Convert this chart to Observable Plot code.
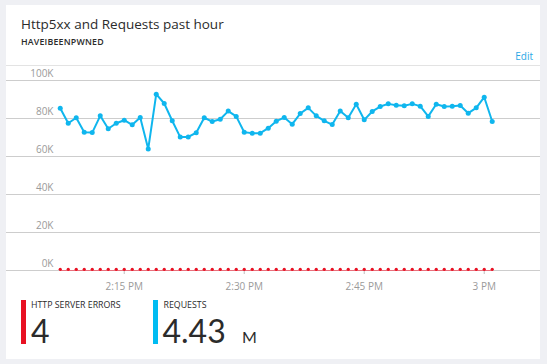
<!DOCTYPE html>
<html>
<head>
<meta charset="utf-8">
<script src="https://cdn.jsdelivr.net/npm/d3@7"></script>
<script src="https://cdn.jsdelivr.net/npm/@observablehq/plot@0.6"></script>
<style>
  html, body { margin: 0; padding: 0; }
  body { width: 547px; height: 364px; background: #eff0f4; position: relative; overflow: hidden; font-family: "Open Sans", "Noto Sans", sans-serif; }
  .card { position: absolute; left: 6px; top: 5px; width: 534px; height: 354px; background: #fff; }
  .abs { position: absolute; line-height: 1; white-space: nowrap; }
  #title { left: 21px; top: 17.6px; font-size: 13.5px; color: #2b2b2b; }
  #subtitle { left: 21px; top: 38.3px; font-size: 8.8px; font-weight: 600; color: #2b2b2b; letter-spacing: 0.2px; }
  #edit { right: 14px; top: 51px; font-size: 10px; color: #2aa8e6; }
  #divider { left: 6px; top: 65px; width: 534px; height: 1px; background: #e3e3e3; }
  #chart { position: absolute; left: 6px; top: 65px; }
  .bar { position: absolute; top: 300px; width: 5px; height: 44px; }
  .lab { font-size: 8.8px; color: #2b2b2b; top: 301px; }
  .big { font-family: Lato, "Open Sans", sans-serif; font-size: 32px; color: #2b2b2b; top: 314.9px; }
  .unit { font-family: Lato, "Open Sans", sans-serif; font-size: 16px; color: #2b2b2b; top: 329.1px; }
</style>
</head>
<body>
<div class="card"></div>
<div class="abs" id="title">Http5xx and Requests past hour</div>
<div class="abs" id="subtitle">HAVEIBEENPWNED</div>
<div class="abs" id="edit">Edit</div>
<div class="abs" id="divider"></div>
<div id="chart"></div>

<div class="bar" style="left:21px;background:#e81123"></div>
<div class="abs lab" style="left:31px">HTTP SERVER ERRORS</div>
<div class="abs big" style="left:31px">4</div>

<div class="bar" style="left:153px;background:#00bcf2"></div>
<div class="abs lab" style="left:163.5px">REQUESTS</div>
<div class="abs big" style="left:162.5px">4.43</div>
<div class="abs unit" style="left:242px">M</div>

<script>
// per-minute request counts, 2:07 PM .. 3:01 PM
const requests = [
  85400, 77500, 80400, 72800, 72600, 81400, 74600, 77500, 79100, 76700,
  80500, 64000, 92800, 87900, 78800, 70200, 70300, 72500, 80400, 78400,
  79600, 83900, 81100, 72800, 72300, 72300, 74900, 78600, 80500, 77000,
  82600, 85600, 81400, 78800, 76800, 83900, 80400, 87500, 79300, 83700,
  86300, 87700, 87000, 86700, 87700, 86500, 81100, 87500, 86300, 86500,
  86800, 82800, 85600, 91200, 78400
];
// HTTP 5xx errors per minute (total 4)
const errors = [
  0, 0, 0, 0, 0, 0, 0, 0, 0, 0,
  0, 0, 1, 0, 0, 0, 0, 0, 0, 0,
  0, 0, 0, 1, 0, 0, 0, 0, 0, 0,
  0, 0, 0, 0, 0, 0, 1, 0, 0, 0,
  0, 0, 0, 0, 0, 0, 0, 0, 1, 0,
  0, 0, 0, 0, 0
];
const times = d3.timeMinute.range(new Date(2017, 0, 1, 14, 7), new Date(2017, 0, 1, 15, 2));
const yTicks = [0, 20000, 40000, 60000, 80000, 100000];
const xTicks = [new Date(2017, 0, 1, 14, 15), new Date(2017, 0, 1, 14, 30), new Date(2017, 0, 1, 14, 45), new Date(2017, 0, 1, 15, 0)];

const data = times.map((t, i) => ({time: t, requests: requests[i], errors: errors[i]}));
const fmtMin = d3.timeFormat("%-I:%M %p");
const fmtHour = d3.timeFormat("%-I %p");

const chart = Plot.plot({
  width: 534,
  height: 235,
  marginTop: 15,
  marginBottom: 30,
  marginLeft: 0,
  marginRight: 0,
  style: {fontFamily: "'Open Sans', sans-serif", fontSize: "10px", color: "#9a9a9a", background: "transparent", overflow: "visible"},
  x: {type: "time", domain: [new Date(2017, 0, 1, 14, 0, 17), new Date(2017, 0, 1, 15, 7, 2)], label: null},
  y: {domain: [0, 100000], label: null},
  marks: [
    Plot.ruleY(yTicks, {stroke: "#cdcdcd", strokeWidth: 1}),
    Plot.axisY(yTicks, {tickSize: 0, tickPadding: 0, dx: 47, dy: -6.5, textAnchor: "end", tickFormat: d => d / 1000 + "K", fill: "#9a9a9a"}),
    Plot.axisX(xTicks, {tickSize: 4, tickPadding: 8, stroke: "#bdbdbd", fill: "#9a9a9a", tickFormat: d => d.getMinutes() ? fmtMin(d) : fmtHour(d)}),
    Plot.line(data, {x: "time", y: "errors", stroke: "#e8707c", strokeWidth: 1.2}),
    Plot.dot(data, {x: "time", y: "errors", r: 1.6, fill: "#e81123", dy: -1.2}),
    Plot.line(data, {x: "time", y: "requests", stroke: "#0fb6ee", strokeWidth: 2}),
    Plot.dot(data, {x: "time", y: "requests", r: 2.5, fill: "#0fb6ee"})
  ]
});
document.getElementById("chart").append(chart);
</script>
</body>
</html>
